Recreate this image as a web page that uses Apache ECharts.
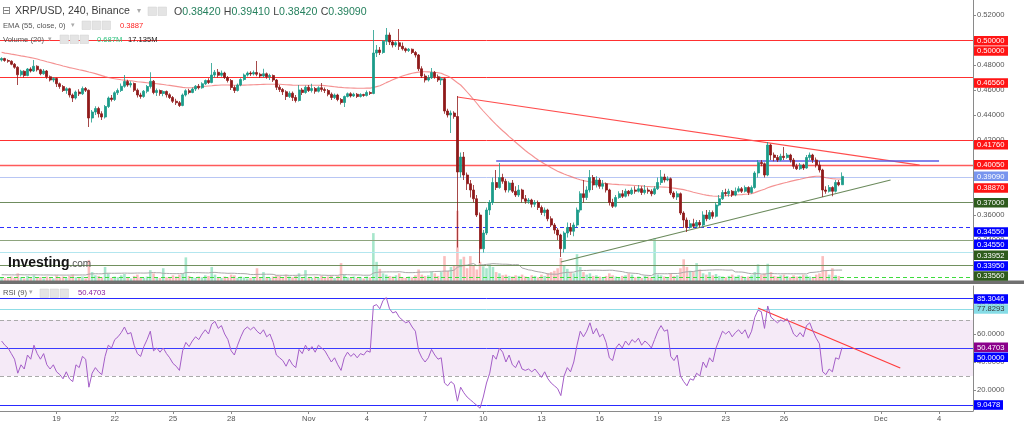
<!DOCTYPE html>
<html><head><meta charset="utf-8">
<script src="https://cdn.jsdelivr.net/npm/echarts@6/dist/echarts.min.js"></script>
<style>html,body{margin:0;padding:0;background:#fff}#c{width:1024px;height:427px}</style>
</head><body><div id="c"></div>
<script>
// ---------- axis / categories ----------
const SLOT_COUNT = 301;                       // 4h slots across the visible window
const tickIndex  = [17,35,53,71,95,113,131,149,167,185,203,224,242,272,290];
const tickLabels = ['19','22','25','28','Nov','4','7','10','13','16','19','23','26','Dec','4'];
const priceTicks = [0.32,0.34,0.36,0.38,0.40,0.42,0.44,0.46,0.48,0.50,0.52];
const rsiTicks   = [20,40,60,80];

// ---------- candles: [open, close, low, high] ----------
const ohlc = [
[0.4840,0.4852,0.4828,0.4862],[0.4852,0.4836,0.4826,0.4858],[0.4836,0.4830,0.4818,0.4846],[0.4830,0.4806,0.4798,0.4838],[0.4806,0.4782,0.4770,0.4816],[0.4782,0.4722,0.4640,0.4790],[0.4722,0.4750,0.4708,0.4762],[0.4750,0.4716,0.4700,0.4758],[0.4716,0.4768,0.4710,0.4776],[0.4768,0.4752,0.4740,0.4782],
[0.4752,0.4790,0.4744,0.4840],[0.4790,0.4762,0.4748,0.4798],[0.4762,0.4730,0.4718,0.4770],[0.4730,0.4752,0.4722,0.4768],[0.4752,0.4706,0.4690,0.4760],[0.4706,0.4680,0.4668,0.4716],[0.4680,0.4692,0.4662,0.4704],[0.4692,0.4650,0.4624,0.4698],[0.4650,0.4628,0.4610,0.4660],[0.4628,0.4596,0.4584,0.4640],
[0.4596,0.4610,0.4570,0.4622],[0.4610,0.4560,0.4540,0.4618],[0.4560,0.4536,0.4504,0.4572],[0.4536,0.4584,0.4524,0.4596],[0.4584,0.4570,0.4552,0.4606],[0.4570,0.4612,0.4560,0.4628],[0.4612,0.4598,0.4584,0.4624],[0.4598,0.4376,0.4304,0.4604],[0.4376,0.4424,0.4340,0.4440],[0.4424,0.4452,0.4400,0.4470],
[0.4452,0.4410,0.4380,0.4466],[0.4410,0.4384,0.4360,0.4430],[0.4384,0.4468,0.4372,0.4480],[0.4468,0.4536,0.4456,0.4548],[0.4536,0.4524,0.4508,0.4560],[0.4524,0.4578,0.4512,0.4590],[0.4578,0.4596,0.4560,0.4612],[0.4596,0.4630,0.4584,0.4652],[0.4630,0.4668,0.4618,0.4720],[0.4668,0.4640,0.4626,0.4682],
[0.4640,0.4652,0.4620,0.4670],[0.4652,0.4598,0.4584,0.4660],[0.4598,0.4560,0.4540,0.4612],[0.4560,0.4548,0.4530,0.4578],[0.4548,0.4590,0.4538,0.4600],[0.4590,0.4628,0.4574,0.4640],[0.4628,0.4670,0.4612,0.4742],[0.4670,0.4580,0.4566,0.4680],[0.4580,0.4596,0.4552,0.4612],[0.4596,0.4572,0.4554,0.4604],
[0.4572,0.4588,0.4550,0.4598],[0.4588,0.4562,0.4540,0.4596],[0.4562,0.4540,0.4528,0.4574],[0.4540,0.4510,0.4496,0.4552],[0.4510,0.4498,0.4480,0.4530],[0.4498,0.4476,0.4464,0.4512],[0.4476,0.4560,0.4470,0.4572],[0.4560,0.4594,0.4548,0.4606],[0.4594,0.4580,0.4566,0.4610],[0.4580,0.4608,0.4574,0.4620],
[0.4608,0.4630,0.4592,0.4640],[0.4630,0.4618,0.4604,0.4648],[0.4618,0.4650,0.4610,0.4662],[0.4650,0.4676,0.4640,0.4684],[0.4676,0.4660,0.4648,0.4694],[0.4660,0.4720,0.4654,0.4816],[0.4720,0.4742,0.4700,0.4760],[0.4742,0.4718,0.4700,0.4768],[0.4718,0.4736,0.4706,0.4756],[0.4736,0.4700,0.4688,0.4746],
[0.4700,0.4676,0.4660,0.4712],[0.4676,0.4620,0.4600,0.4688],[0.4620,0.4596,0.4576,0.4636],[0.4596,0.4640,0.4588,0.4652],[0.4640,0.4684,0.4630,0.4694],[0.4684,0.4720,0.4674,0.4732],[0.4720,0.4736,0.4708,0.4748],[0.4736,0.4728,0.4712,0.4750],[0.4728,0.4740,0.4716,0.4756],[0.4740,0.4726,0.4710,0.4832],
[0.4726,0.4712,0.4696,0.4738],[0.4712,0.4730,0.4700,0.4770],[0.4730,0.4706,0.4690,0.4740],[0.4706,0.4716,0.4680,0.4730],[0.4716,0.4680,0.4664,0.4724],[0.4680,0.4622,0.4600,0.4688],[0.4622,0.4604,0.4584,0.4640],[0.4604,0.4586,0.4560,0.4616],[0.4586,0.4548,0.4520,0.4598],[0.4548,0.4574,0.4536,0.4590],
[0.4574,0.4540,0.4512,0.4588],[0.4540,0.4516,0.4500,0.4560],[0.4516,0.4600,0.4508,0.4640],[0.4600,0.4580,0.4560,0.4616],[0.4580,0.4622,0.4570,0.4636],[0.4622,0.4596,0.4584,0.4640],[0.4596,0.4612,0.4580,0.4650],[0.4612,0.4590,0.4570,0.4624],[0.4590,0.4618,0.4580,0.4630],[0.4618,0.4604,0.4586,0.4656],
[0.4604,0.4596,0.4576,0.4620],[0.4596,0.4566,0.4550,0.4608],[0.4566,0.4540,0.4520,0.4580],[0.4540,0.4560,0.4528,0.4572],[0.4560,0.4524,0.4510,0.4570],[0.4524,0.4500,0.4484,0.4536],[0.4500,0.4548,0.4464,0.4556],[0.4548,0.4570,0.4540,0.4580],[0.4570,0.4552,0.4540,0.4582],[0.4552,0.4566,0.4544,0.4578],
[0.4566,0.4548,0.4536,0.4576],[0.4548,0.4564,0.4540,0.4574],[0.4564,0.4556,0.4546,0.4570],[0.4556,0.4580,0.4548,0.4596],[0.4580,0.4572,0.4560,0.4590],[0.4572,0.4896,0.4566,0.5080],[0.4896,0.4920,0.4864,0.4960],[0.4920,0.4900,0.4880,0.4944],[0.4900,0.4990,0.4890,0.5000],[0.4990,0.5040,0.4960,0.5096],
[0.5040,0.4984,0.4960,0.5060],[0.4984,0.4960,0.4940,0.5000],[0.4960,0.4978,0.4944,0.4990],[0.4978,0.4950,0.4920,0.5088],[0.4950,0.4930,0.4916,0.4980],[0.4930,0.4916,0.4900,0.4940],[0.4916,0.4926,0.4904,0.4936],[0.4926,0.4900,0.4888,0.4932],[0.4900,0.4880,0.4860,0.4912],[0.4880,0.4770,0.4752,0.4888],
[0.4770,0.4712,0.4696,0.4790],[0.4712,0.4680,0.4660,0.4730],[0.4680,0.4698,0.4668,0.4720],[0.4698,0.4740,0.4688,0.4776],[0.4740,0.4706,0.4690,0.4752],[0.4706,0.4680,0.4664,0.4724],[0.4680,0.4690,0.4640,0.4706],[0.4690,0.4432,0.4410,0.4698],[0.4432,0.4400,0.4380,0.4450],[0.4400,0.4416,0.4256,0.4436],
[0.4416,0.4388,0.4370,0.4430],[0.4388,0.3944,0.3340,0.4552],[0.3944,0.4064,0.3900,0.4100],[0.4064,0.3920,0.3880,0.4104],[0.3920,0.3850,0.3800,0.3940],[0.3850,0.3800,0.3740,0.3880],[0.3800,0.3730,0.3700,0.3840],[0.3730,0.3600,0.3584,0.3760],[0.3600,0.3330,0.3216,0.3620],[0.3330,0.3456,0.3300,0.3480],
[0.3456,0.3640,0.3440,0.3660],[0.3640,0.3700,0.3600,0.3720],[0.3700,0.3860,0.3680,0.3900],[0.3860,0.3820,0.3800,0.3960],[0.3820,0.3900,0.3810,0.4016],[0.3900,0.3870,0.3850,0.3930],[0.3870,0.3800,0.3780,0.3890],[0.3800,0.3856,0.3780,0.3870],[0.3856,0.3790,0.3776,0.3880],[0.3790,0.3760,0.3744,0.3830],
[0.3760,0.3800,0.3744,0.3840],[0.3800,0.3730,0.3700,0.3810],[0.3730,0.3710,0.3690,0.3760],[0.3710,0.3720,0.3690,0.3736],[0.3720,0.3686,0.3660,0.3730],[0.3686,0.3700,0.3664,0.3720],[0.3700,0.3660,0.3640,0.3716],[0.3660,0.3620,0.3600,0.3676],[0.3620,0.3640,0.3590,0.3660],[0.3640,0.3570,0.3550,0.3650],
[0.3570,0.3520,0.3504,0.3590],[0.3520,0.3480,0.3450,0.3536],[0.3480,0.3440,0.3400,0.3496],[0.3440,0.3330,0.3264,0.3450],[0.3330,0.3456,0.3300,0.3470],[0.3456,0.3500,0.3420,0.3540],[0.3500,0.3470,0.3440,0.3536],[0.3470,0.3520,0.3430,0.3540],[0.3520,0.3640,0.3500,0.3660],[0.3640,0.3770,0.3620,0.3790],
[0.3770,0.3740,0.3700,0.3880],[0.3740,0.3800,0.3720,0.3830],[0.3800,0.3900,0.3780,0.3960],[0.3900,0.3840,0.3800,0.3920],[0.3840,0.3880,0.3820,0.3910],[0.3880,0.3830,0.3810,0.3896],[0.3830,0.3850,0.3806,0.3880],[0.3850,0.3800,0.3780,0.3860],[0.3800,0.3700,0.3676,0.3810],[0.3700,0.3670,0.3656,0.3730],
[0.3670,0.3740,0.3660,0.3760],[0.3740,0.3770,0.3730,0.3790],[0.3770,0.3750,0.3736,0.3800],[0.3750,0.3790,0.3740,0.3810],[0.3790,0.3770,0.3750,0.3800],[0.3770,0.3800,0.3760,0.3820],[0.3800,0.3790,0.3770,0.3830],[0.3790,0.3810,0.3780,0.3840],[0.3810,0.3780,0.3760,0.3830],[0.3780,0.3800,0.3764,0.3840],
[0.3800,0.3790,0.3770,0.3820],[0.3790,0.3770,0.3750,0.3806],[0.3770,0.3810,0.3760,0.3830],[0.3810,0.3860,0.3800,0.3900],[0.3860,0.3904,0.3840,0.3960],[0.3904,0.3880,0.3860,0.3930],[0.3880,0.3890,0.3870,0.3910],[0.3890,0.3776,0.3760,0.3900],[0.3776,0.3744,0.3730,0.3790],[0.3744,0.3770,0.3720,0.3790],
[0.3770,0.3616,0.3600,0.3780],[0.3616,0.3560,0.3496,0.3630],[0.3560,0.3500,0.3464,0.3580],[0.3500,0.3530,0.3490,0.3560],[0.3530,0.3510,0.3496,0.3570],[0.3510,0.3540,0.3500,0.3560],[0.3540,0.3520,0.3500,0.3560],[0.3520,0.3600,0.3510,0.3630],[0.3600,0.3570,0.3550,0.3640],[0.3570,0.3620,0.3560,0.3640],
[0.3620,0.3590,0.3570,0.3636],[0.3590,0.3680,0.3580,0.3700],[0.3680,0.3730,0.3670,0.3760],[0.3730,0.3780,0.3720,0.3800],[0.3780,0.3770,0.3750,0.3810],[0.3770,0.3790,0.3746,0.3810],[0.3790,0.3760,0.3744,0.3800],[0.3760,0.3790,0.3750,0.3820],[0.3790,0.3810,0.3780,0.3830],[0.3810,0.3790,0.3776,0.3824],
[0.3790,0.3820,0.3780,0.3836],[0.3820,0.3780,0.3760,0.3830],[0.3780,0.3820,0.3770,0.3836],[0.3820,0.3936,0.3810,0.3950],[0.3936,0.4020,0.3900,0.4040],[0.4020,0.4010,0.3990,0.4040],[0.4010,0.3920,0.3900,0.4020],[0.3920,0.4160,0.3910,0.4184],[0.4160,0.4080,0.4040,0.4170],[0.4080,0.4060,0.4030,0.4100],
[0.4060,0.4040,0.4024,0.4080],[0.4040,0.4070,0.4030,0.4090],[0.4070,0.4060,0.4040,0.4144],[0.4060,0.4080,0.4050,0.4096],[0.4080,0.4040,0.4020,0.4090],[0.4040,0.3990,0.3970,0.4056],[0.3990,0.3970,0.3960,0.4010],[0.3970,0.4000,0.3960,0.4016],[0.4000,0.3976,0.3960,0.4010],[0.3976,0.4060,0.3970,0.4080],
[0.4060,0.4080,0.4040,0.4100],[0.4080,0.4040,0.4016,0.4090],[0.4040,0.4000,0.3980,0.4060],[0.4000,0.3960,0.3940,0.4030],[0.3960,0.3800,0.3744,0.3970],[0.3800,0.3790,0.3770,0.3830],[0.3790,0.3820,0.3780,0.3840],[0.3820,0.3790,0.3750,0.3830],[0.3790,0.3860,0.3780,0.3880],[0.3860,0.3842,0.3830,0.3880],
[0.3842,0.3909,0.3842,0.3941]
];

// ---------- EMA(55, close) ----------
const ema55 = [
0.4902,0.4895,0.4892,0.4887,0.4883,0.4878,0.4873,0.4869,0.4864,0.4859,
0.4854,0.4848,0.4840,0.4834,0.4826,0.4820,0.4813,0.4806,0.4800,0.4792,
0.4786,0.4779,0.4774,0.4768,0.4762,0.4757,0.4751,0.4744,0.4738,0.4731,
0.4723,0.4715,0.4707,0.4700,0.4694,0.4690,0.4686,0.4682,0.4679,0.4676,
0.4674,0.4670,0.4666,0.4664,0.4661,0.4658,0.4655,0.4653,0.4650,0.4647,
0.4644,0.4640,0.4637,0.4633,0.4629,0.4625,0.4621,0.4618,0.4618,0.4619,
0.4622,0.4624,0.4627,0.4630,0.4632,0.4634,0.4637,0.4638,0.4640,0.4640,
0.4640,0.4639,0.4638,0.4638,0.4638,0.4639,0.4640,0.4641,0.4642,0.4643,
0.4644,0.4645,0.4646,0.4646,0.4646,0.4646,0.4646,0.4644,0.4642,0.4641,
0.4639,0.4638,0.4638,0.4638,0.4638,0.4638,0.4638,0.4638,0.4638,0.4637,
0.4635,0.4632,0.4629,0.4626,0.4623,0.4621,0.4618,0.4617,0.4616,0.4615,
0.4614,0.4614,0.4614,0.4615,0.4615,0.4620,0.4627,0.4634,0.4646,0.4659,
0.4670,0.4682,0.4693,0.4702,0.4712,0.4720,0.4727,0.4734,0.4739,0.4743,
0.4746,0.4746,0.4745,0.4744,0.4742,0.4738,0.4734,0.4722,0.4712,0.4698,
0.4678,0.4658,0.4640,0.4613,0.4584,0.4555,0.4524,0.4494,0.4461,0.4432,
0.4404,0.4376,0.4349,0.4323,0.4298,0.4274,0.4252,0.4227,0.4206,0.4182,
0.4160,0.4138,0.4116,0.4096,0.4078,0.4058,0.4040,0.4024,0.4008,0.3994,
0.3978,0.3964,0.3950,0.3939,0.3928,0.3918,0.3909,0.3899,0.3890,0.3882,
0.3875,0.3870,0.3865,0.3862,0.3858,0.3856,0.3854,0.3851,0.3849,0.3846,
0.3845,0.3843,0.3842,0.3840,0.3839,0.3838,0.3836,0.3834,0.3833,0.3830,
0.3828,0.3826,0.3826,0.3825,0.3824,0.3823,0.3822,0.3818,0.3815,0.3811,
0.3807,0.3803,0.3796,0.3790,0.3782,0.3776,0.3770,0.3764,0.3759,0.3755,
0.3752,0.3750,0.3750,0.3752,0.3754,0.3757,0.3758,0.3760,0.3762,0.3763,
0.3766,0.3768,0.3771,0.3779,0.3789,0.3798,0.3806,0.3818,0.3827,0.3835,
0.3842,0.3849,0.3856,0.3862,0.3869,0.3875,0.3881,0.3886,0.3892,0.3898,
0.3903,0.3907,0.3910,0.3910,0.3905,0.3898,0.3894,0.3891,0.3889,0.3888,
0.3887
];

// ---------- Volume (millions) and its 20-period average ----------
const volume = [
6,5,4,7,5,12,6,4,8,5, 9,5,6,4,7,5,4,9,6,7, 5,8,10,6,5,7,4,33,14,9, 8,6,22,12,5,7,6,9,11,5,
4,8,10,6,5,7,17,12,6,5, 20,6,5,9,7,10,12,37,8,6, 5,7,6,9,8,22,10,6,5,7, 6,10,9,5,7,6,4,5,6,20,
5,14,6,5,7,9,8,6,10,7, 6,8,12,5,17,6,5,7,5,8, 6,7,9,5,8,28,10,6,5,7, 5,6,4,7,6,75,30,19,12,10,
8,7,9,12,6,5,7,6,9,18, 10,8,9,15,12,8,14,39,16,22, 25,110,34,38,20,39,24,18,30,23, 20,26,22,14,12,9,10,8,7,9,
8,10,7,6,9,8,6,10,8,12, 14,16,20,36,25,19,14,12,42,22, 14,10,12,8,9,7,6,8,12,9, 7,6,8,9,12,10,6,7,5,8,
7,6,67,10,9,7,6,12,8,9, 20,34,22,16,15,28,18,12,10,14, 9,11,8,7,6,8,10,7,9,8, 6,7,9,14,26,10,12,27,14,8,
7,9,10,8,6,9,7,8,10,9, 7,6,10,12,39,16,10,20,9,8, 0.687
];
const volumeMA = [
9.8,9.7,9.6,9.6,9.5,9.8,9.8,9.6,9.7,9.6, 9.7,9.6,9.5,9.4,9.5,9.4,9.3,9.4,9.3,9.3,
9.2,9.3,9.5,9.4,9.4,9.5,9.4,10.8,11.2,11.4, 11.3,11.3,12.0,12.2,12.1,12.1,12.2,12.2,12.4,12.3,
12.2,12.3,12.5,12.5,12.4,12.5,12.9,13.3,12.9,12.9, 12.0,11.9,11.7,11.5,11.5,11.6,11.6,13.2,13.2,13.2,
13.0,13.1,12.8,12.7,12.6,13.4,13.5,13.0,12.6,12.4, 12.0,12.2,12.1,11.7,11.6,11.5,11.1,10.1,10.1,10.4,
10.4,10.6,10.6,10.6,10.4,9.0,9.0,8.9,9.1,8.8, 8.8,8.9,9.1,9.1,9.6,9.6,9.6,9.7,9.6,9.1,
9.1,8.8,8.9,8.9,8.9,9.9,10.0,9.9,9.6,9.5, 9.5,9.4,9.0,9.1,9.1,12.4,13.5,14.0,14.1,14.2,
14.3,14.3,14.2,14.6,14.0,13.2,13.1,13.1,13.3,13.8, 14.0,14.1,14.1,14.5,14.8,15.0,15.1,15.5,15.5,16.0,
17.0,21.6,22.8,24.5,24.8,26.4,27.3,24.1,24.8,25.4, 26.0,26.6,27.2,26.9,26.6,26.3,26.3,26.0,25.3,25.6,
25.4,20.4,19.0,17.4,16.8,15.3,14.4,13.6,12.5,11.1, 10.8,10.6,10.7,12.1,13.0,13.5,13.7,13.9,15.6,16.2,
16.5,16.5,16.8,16.9,16.9,16.8,16.6,16.7,16.9,16.8, 16.0,15.3,14.7,13.4,12.7,12.3,11.9,11.6,9.8,9.1,
8.8,8.4,11.4,11.5,11.4,11.4,11.4,11.7,11.7,11.7, 12.4,13.7,14.4,14.7,14.9,15.9,16.5,16.7,16.9,17.2,
17.3,17.5,17.5,17.4,17.1,17.0,17.2,14.2,14.1,14.0, 13.3,12.1,11.4,11.3,11.9,11.0,10.8,11.6,11.8,11.5,
11.4,11.3,11.4,11.4,11.3,11.3,11.3,11.3,11.3,11.1, 13.2,13.5,14.0,14.6,16.0,16.3,16.5,16.9,17.0,17.1,
17.135
];

// ---------- RSI(9) ----------
const rsi9 = [
55,52,50,46,42,32,38,35,45,42, 52,46,42,46,38,35,38,33,31,28,
33,28,26,38,36,44,42,22,32,36, 33,31,44,52,50,56,58,61,65,60,
61,52,46,44,51,56,62,48,50,47, 50,46,43,39,37,34,48,54,51,55,
58,56,60,63,60,67,69,64,66,60, 56,48,45,52,58,63,65,63,65,62,
60,63,58,60,54,45,43,41,37,42, 38,36,49,46,52,48,51,47,52,50,
48,44,40,43,38,34,43,47,44,46, 43,46,45,48,47,80,81,78,84,86,
78,75,76,72,70,68,69,65,62,48, 43,40,43,49,45,42,43,25,23,26,
24,12,22,18,15,13,11,9,7,15, 25,32,45,42,50,47,40,45,38,36,
41,35,34,35,33,35,32,29,33,28, 25,23,21,16,30,36,33,40,52,62,
58,62,68,60,64,58,60,54,43,41, 50,53,50,55,52,56,54,57,52,55,
53,50,56,62,66,62,63,44,41,45, 30,26,23,28,27,32,30,40,36,43,
40,50,56,62,60,62,58,61,63,60, 63,57,62,72,77,76,64,80,72,70,
68,70,69,71,66,60,58,61,58,66, 68,62,57,53,33,31,35,33,43,42,
50.4703
];

// ---------- horizontal levels & drawings ----------
const priceLevelValues = [0.5000,0.4656,0.4176,0.4005,0.3909,0.3700,0.3462,0.3392,0.3352,0.3288,0.3186,0.3120];
const priceLevelColors = ['#ff3030','#ff3030','#ff3030','#ff5a5a','#b8c6f4','#6f8c5e','#3030ff','#3a3a9c','#8ea47e','#b3e6ef','#71905f','#3ddc3d'];
const priceLevelDashed = [false,false,false,false,false,false,true,false,false,false,false,true];
const rsiLevelValues = [85.3046,77.8293,50,9.0478];
const rsiLevelColors = ['#2a2aff','#8fdde6','#3b3bff','#2a2aff'];
const trendRed   = [[141,0.4544],[284,0.3999]];
const trendBlue  = [[153,0.4036],[290,0.4036]];
const trendGreen = [[173,0.3224],[275,0.3880]];
const rsiTrend   = [[234,78.6],[278,35.7]];

// right-axis value tags [text, centre y, background, text colour]
const axisTags = [
 ['0.50000',40.7,'#ff1414','#fff'],['0.50000',51,'#ff1414','#fff'],['0.46560',83,'#ff1414','#fff'],
 ['0.41760',144.7,'#ff1414','#fff'],['0.40050',164.7,'#ff1414','#fff'],['0.39090',176.3,'#7895ee','#fff'],
 ['0.38870',188,'#ff1414','#fff'],['0.37000',202.7,'#2e5b1d','#fff'],['0.34550',232,'#0000ff','#fff'],
 ['0.34550',244.3,'#0000ff','#fff'],['0.33952',255.3,'#2e5b1d','#fff'],['0.33950',266,'#0000ff','#fff'],
 ['0.33560',276,'#2e5b1d','#fff'],['85.3046',299,'#0000ff','#fff'],['77.8293',309,'#86dce6','#333'],
 ['50.4703',347.3,'#8b008b','#fff'],['50.0000',357.3,'#0000ff','#fff'],['9.0478',405,'#0000ff','#fff']
];

// ---------- build ----------
const slots = Array.from({length: SLOT_COUNT}, (_, i) => String(i));
const UP = '#1c9c8a', DOWN = '#8f1a1a';
const volData = volume.map((v, i) => ({
  value: v,
  itemStyle: {color: ohlc[i][1] >= ohlc[i][0] ? 'rgba(60,200,140,0.45)' : 'rgba(245,110,110,0.45)'}
}));
const hLine = (v, c, dashed, w) => ({yAxis: v, lineStyle: {color: c, width: w || 1, type: dashed ? [4,3] : 'solid'}});
const seg = (pts, c, w) => [{coord: pts[0], lineStyle: {color: c, width: w || 1, type: 'solid'}}, {coord: pts[1]}];

const priceMarks = priceLevelValues.map((v, i) => hLine(v, priceLevelColors[i], priceLevelDashed[i], i === 3 ? 1.4 : 1));
priceMarks.push(seg(trendRed, '#ff4d4d', 1.2), seg(trendBlue, '#5b5be6', 1.6), seg(trendGreen, '#6b8a5c', 1.2));
const rsiMarks = rsiLevelValues.map((v, i) => hLine(v, rsiLevelColors[i], false, 1));
rsiMarks.push(hLine(70, '#aaaaaa', true, 1), hLine(30, '#aaaaaa', true, 1));
rsiMarks.push(seg(rsiTrend, '#ff3b3b', 1.2));

const FONT = '"Liberation Sans", Arial, sans-serif';
const graphics = [];
axisTags.forEach(t => {
  const w = t[0].length >= 7 ? 34 : 29;
  graphics.push({type: 'rect', z: 100, shape: {x: 974, y: t[1] - 4.8, width: w, height: 9.6}, style: {fill: t[2]}});
  graphics.push({type: 'text', z: 101, x: 977, y: t[1] + 0.3, style: {text: t[0], fill: t[3], font: '7.6px ' + FONT, textVerticalAlign: 'middle'}});
});
// pane separator
graphics.push({type: 'rect', z: 90, shape: {x: 0, y: 280.5, width: 1024, height: 3.5}, style: {fill: '#707070'}});
// legend lines
const iconBox = (x, y) => ({type: 'rect', z: 50, shape: {x: x, y: y, width: 8.5, height: 8.5}, style: {fill: '#e4e4e4', stroke: '#d0d0d0', lineWidth: 0.5}});
graphics.push({type: 'text', z: 50, x: 2, y: 6, style: {text: '⊟', fill: '#777', font: '11px "DejaVu Sans"'}});
graphics.push({type: 'text', z: 50, x: 15, y: 6, style: {text: 'XRP/USD, 240, Binance', fill: '#3a3a3a', font: '10.6px ' + FONT}});
graphics.push({type: 'text', z: 50, x: 137, y: 7, style: {text: '▾', fill: '#aaa', font: '8px "DejaVu Sans"'}});
graphics.push(iconBox(148, 7), iconBox(158, 7));
graphics.push({type: 'text', z: 50, x: 174, y: 6, style: {
  text: '{l|O}{v|0.38420} {l|H}{v|0.39410} {l|L}{v|0.38420} {l|C}{v|0.39090}',
  rich: {l: {fill: '#444', font: '10.6px ' + FONT}, v: {fill: '#26815e', font: '10.6px ' + FONT}}}});
graphics.push({type: 'text', z: 50, x: 3, y: 21.5, style: {text: 'EMA (55, close, 0)', fill: '#555', font: '7.6px ' + FONT}});
graphics.push({type: 'text', z: 50, x: 71, y: 21.5, style: {text: '▾', fill: '#aaa', font: '7px "DejaVu Sans"'}});
graphics.push(iconBox(82, 21), iconBox(92, 21), iconBox(102, 21));
graphics.push({type: 'text', z: 50, x: 120, y: 21.5, style: {text: '0.3887', fill: '#ff2020', font: '7.6px ' + FONT}});
graphics.push({type: 'text', z: 50, x: 3, y: 35.5, style: {text: 'Volume (20)', fill: '#555', font: '7.6px ' + FONT}});
graphics.push({type: 'text', z: 50, x: 48, y: 35.5, style: {text: '▾', fill: '#aaa', font: '7px "DejaVu Sans"'}});
graphics.push(iconBox(60, 35), iconBox(70, 35), iconBox(80, 35));
graphics.push({type: 'text', z: 50, x: 97, y: 35.5, style: {text: '0.687M', fill: '#2ec27e', font: '7.6px ' + FONT}});
graphics.push({type: 'text', z: 50, x: 128, y: 35.5, style: {text: '17.135M', fill: '#222', font: '7.6px ' + FONT}});
// RSI legend
graphics.push({type: 'text', z: 50, x: 3, y: 289, style: {text: 'RSI (9)', fill: '#555', font: '7.6px ' + FONT}});
graphics.push({type: 'text', z: 50, x: 29, y: 289, style: {text: '▾', fill: '#aaa', font: '7px "DejaVu Sans"'}});
graphics.push(iconBox(40, 289), iconBox(50, 289), iconBox(60, 289));
graphics.push({type: 'text', z: 50, x: 78, y: 289, style: {text: '50.4703', fill: '#8b1a9b', font: '7.6px ' + FONT}});
// watermark
graphics.push({type: 'text', z: 60, x: 8, y: 256, style: {
  text: '{a|Investing}{b|.com}',
  rich: {a: {fill: '#151515', font: 'bold 14px ' + FONT}, b: {fill: '#555', font: '10px ' + FONT, padding: [3, 0, 0, 0]}}}});

const chart = echarts.init(document.getElementById('c'), null, {renderer: 'canvas'});
const axisGray = '#8a8a8a';
chart.setOption({
  animation: false,
  backgroundColor: '#ffffff',
  grid: [
    {left: 0, right: 51, top: 0, height: 281},
    {left: 0, right: 51, top: 0, height: 281},
    {left: 0, right: 51, top: 286, height: 125}
  ],
  xAxis: [
    {type: 'category', gridIndex: 0, data: slots, boundaryGap: true, show: false},
    {type: 'category', gridIndex: 1, data: slots, boundaryGap: true, show: false},
    {type: 'category', gridIndex: 2, data: slots, boundaryGap: true,
     axisLine: {lineStyle: {color: axisGray}},
     axisTick: {show: true, length: 3, interval: (i) => tickIndex.includes(i), alignWithLabel: true, lineStyle: {color: axisGray}},
     axisLabel: {interval: (i) => tickIndex.includes(i), color: '#555', fontSize: 7.6, fontFamily: 'Liberation Sans', margin: 4,
                 formatter: (v, i) => { const k = tickIndex.indexOf(+v); return k >= 0 ? tickLabels[k] : ''; }},
     splitLine: {show: false}}
  ],
  yAxis: [
    {type: 'value', gridIndex: 0, position: 'right', min: 0.3072, max: 0.532, scale: true,
     axisLine: {show: true, lineStyle: {color: axisGray}},
     axisTick: {show: true, length: 3, customValues: priceTicks, lineStyle: {color: axisGray}},
     axisLabel: {customValues: priceTicks, color: '#555', fontSize: 7.6, fontFamily: 'Liberation Sans', margin: 4,
                 formatter: (v) => v.toFixed(5)},
     splitLine: {show: false}},
    {type: 'value', gridIndex: 1, min: 0, max: 440, show: false, splitLine: {show: false}},
    {type: 'value', gridIndex: 2, position: 'right', min: 5, max: 94.2857,
     axisLine: {show: true, lineStyle: {color: axisGray}},
     axisTick: {show: true, length: 3, customValues: rsiTicks, lineStyle: {color: axisGray}},
     axisLabel: {customValues: rsiTicks, color: '#555', fontSize: 7.6, fontFamily: 'Liberation Sans', margin: 4,
                 formatter: (v) => v.toFixed(4)},
     splitLine: {show: false}}
  ],
  series: [
    {type: 'bar', xAxisIndex: 1, yAxisIndex: 1, data: volData, barWidth: 2.6, z: 1, silent: true},
    {type: 'line', xAxisIndex: 1, yAxisIndex: 1, data: volumeMA, showSymbol: false, z: 2, silent: true,
     lineStyle: {color: '#a8a8a8', width: 1}},
    {type: 'candlestick', xAxisIndex: 0, yAxisIndex: 0, data: ohlc, barWidth: 2.5, z: 5,
     itemStyle: {color: UP, color0: DOWN, borderColor: UP, borderColor0: DOWN, borderWidth: 0.8},
     markLine: {symbol: ['none', 'none'], silent: true, animation: false, label: {show: false}, data: priceMarks, z: 3}},
    {type: 'line', xAxisIndex: 0, yAxisIndex: 0, data: ema55, showSymbol: false, z: 4, silent: true,
     lineStyle: {color: 'rgba(240,110,110,0.75)', width: 1.1}},
    {type: 'line', xAxisIndex: 2, yAxisIndex: 2, data: rsi9, showSymbol: false, z: 5, silent: true,
     lineStyle: {color: '#a45ec8', width: 1},
     markArea: {silent: true, itemStyle: {color: 'rgba(205,150,215,0.2)'}, data: [[{yAxis: 30}, {yAxis: 70}]]},
     markLine: {symbol: ['none', 'none'], silent: true, animation: false, label: {show: false}, data: rsiMarks}}
  ],
  graphic: graphics
});
</script>
</body></html>
